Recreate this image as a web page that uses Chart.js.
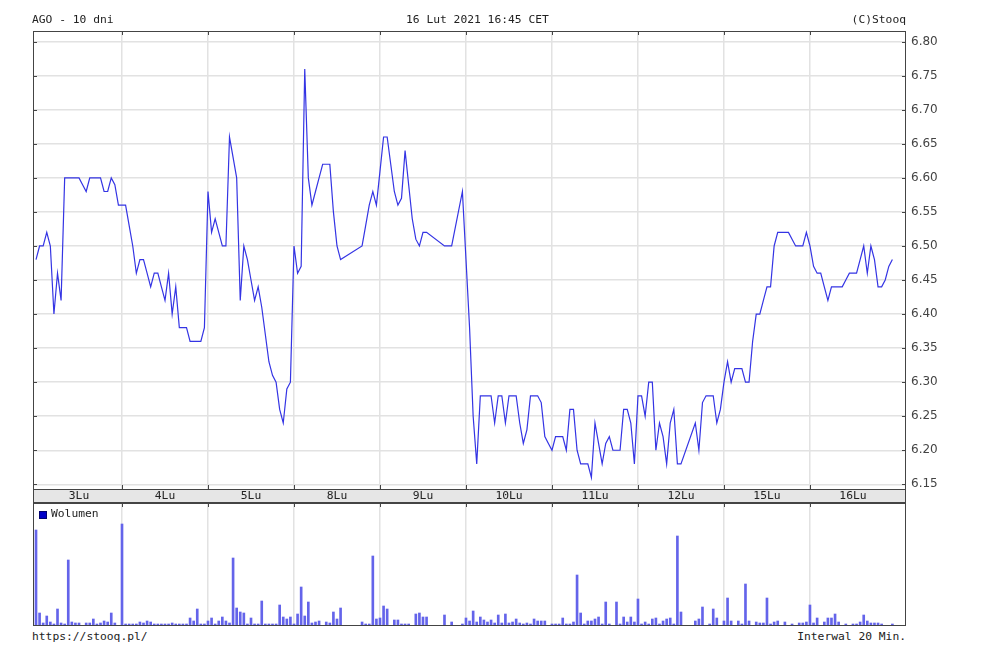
<!DOCTYPE html>
<html>
<head>
<meta charset="utf-8">
<title>AGO - 10 dni</title>
<script src="https://cdn.jsdelivr.net/npm/chart.js@4.4.1/dist/chart.umd.min.js"></script>
<style>
    body { margin: 0; background: #fff; }
    #wrap { position: relative; width: 1000px; height: 661px; overflow: hidden; }
    .t { position: absolute; font: 11.3px "DejaVu Sans Mono", monospace; color: #222; line-height: 14px; white-space: pre; }
    canvas { position: absolute; left: 0; }
    #legendBox { position: absolute; left: 39px; top: 511px; width: 6px; height: 6px; background: #0000c8; border: 1px solid #000070; }
</style>
</head>
<body>
<div id="wrap">
    <canvas id="priceChart" width="1000" height="503" style="top:0;width:1000px;height:503px"></canvas>
    <canvas id="volChart" width="1000" height="124" style="top:503px;width:1000px;height:124px"></canvas>
    <div class="t" style="left:32px;top:13px">AGO - 10 dni</div>
    <div class="t" style="left:406px;top:13px">16 Lut 2021 16:45 CET</div>
    <div class="t" style="right:94px;top:13px">(C)Stooq</div>
    <div id="legendBox"></div>
    <div class="t" style="left:51px;top:507px">Wolumen</div>
    <div class="t" style="left:32px;top:630px">https://stooq.pl/</div>
    <div class="t" style="right:94px;top:630px">Interwal 20 Min.</div>
</div>
<script>
// sessions shown on the x axis (24 quotes of 20 min per session)
var days = ['3Lu', '4Lu', '5Lu', '8Lu', '9Lu', '10Lu', '11Lu', '12Lu', '15Lu', '16Lu'];
var slotsPerDay = 24;

var yTicks = [6.15, 6.20, 6.25, 6.30, 6.35, 6.40, 6.45, 6.50, 6.55, 6.60, 6.65, 6.70, 6.75, 6.80];

// close price per 20 min interval (null = no trade)
var price = [
    6.48, 6.50, 6.50, 6.52, 6.50, 6.40, 6.46, 6.42, 6.60, 6.60, 6.60, 6.60, 6.60, 6.59, 6.58, 6.60, 6.60, 6.60, 6.60, 6.58, 6.58, 6.60, 6.59, 6.56,
    6.56, 6.56, 6.53, 6.50, 6.46, 6.48, 6.48, 6.46, 6.44, 6.46, 6.46, 6.44, 6.42, 6.46, 6.40, 6.44, 6.38, 6.38, 6.38, 6.36, 6.36, 6.36, 6.36, 6.38,
    6.58, 6.52, 6.54, 6.52, 6.50, 6.50, 6.66, 6.63, 6.60, 6.42, 6.50, 6.48, 6.45, 6.42, 6.44, 6.41, 6.37, 6.33, 6.31, 6.30, 6.26, 6.24, 6.29, 6.30,
    6.50, 6.46, 6.47, 6.76, 6.60, 6.56, 6.58, 6.60, 6.62, 6.62, 6.62, 6.55, 6.50, 6.48, null, null, null, null, null, 6.50, 6.53, 6.56, 6.58, 6.56,
    6.61, 6.66, 6.66, 6.62, 6.58, 6.56, 6.57, 6.64, 6.59, 6.54, 6.51, 6.50, 6.52, 6.52, null, null, null, null, 6.50, null, 6.50, null, null, 6.58,
    6.48, 6.38, 6.25, 6.18, 6.28, 6.28, 6.28, 6.28, 6.24, 6.28, 6.28, 6.24, 6.28, 6.28, 6.28, 6.24, 6.21, 6.23, 6.28, 6.28, 6.28, 6.27, 6.22, 6.21,
    6.20, 6.22, 6.22, 6.22, 6.20, 6.26, 6.26, 6.20, 6.18, 6.18, 6.18, 6.16, 6.24, 6.21, 6.18, 6.21, 6.22, 6.20, 6.20, 6.20, 6.26, 6.26, 6.24, 6.18,
    6.28, 6.28, 6.25, 6.30, 6.30, 6.20, 6.24, 6.22, 6.18, 6.24, 6.26, 6.18, 6.18, null, null, null, 6.24, 6.20, 6.27, 6.28, 6.28, 6.28, 6.24, 6.26,
    6.30, 6.33, 6.30, 6.32, 6.32, 6.32, 6.30, 6.30, 6.36, 6.40, 6.40, 6.42, 6.44, 6.44, 6.50, 6.52, 6.52, 6.52, 6.52, 6.51, 6.50, 6.50, 6.50, 6.52,
    6.50, 6.47, 6.46, 6.46, 6.44, 6.42, 6.44, 6.44, 6.44, 6.44, 6.45, 6.46, 6.46, 6.46, 6.48, 6.50, 6.46, 6.50, 6.48, 6.44, 6.44, 6.45, 6.47, 6.48
];

// volume per interval (thousand shares)
var volume = [
    96, 13, 3, 10, 4, 2, 17, 3, 2, 66, 4, 3, 3, 0, 3, 3, 7, 2, 3, 5, 4, 13, 3, 0,
    102, 2, 2, 2, 2, 4, 3, 5, 4, 2, 2, 2, 2, 2, 3, 2, 2, 2, 2, 8, 5, 17, 2, 2,
    5, 8, 2, 5, 9, 5, 3, 68, 18, 14, 13, 2, 8, 2, 2, 25, 2, 2, 2, 2, 21, 9, 7, 9,
    2, 12, 39, 10, 24, 3, 4, 5, 0, 4, 3, 14, 7, 18, 0, 0, 0, 0, 0, 4, 2, 2, 70, 7,
    8, 20, 17, 0, 6, 6, 2, 2, 2, 0, 12, 13, 9, 9, 0, 0, 0, 0, 11, 0, 4, 0, 0, 2,
    8, 5, 15, 4, 9, 6, 4, 6, 3, 11, 3, 12, 3, 4, 7, 3, 2, 3, 2, 7, 5, 5, 5, 0,
    2, 2, 2, 8, 2, 2, 4, 51, 13, 2, 5, 5, 7, 9, 2, 24, 2, 0, 24, 2, 9, 4, 9, 4,
    27, 2, 4, 2, 7, 8, 2, 5, 7, 8, 2, 90, 14, 0, 0, 0, 5, 7, 19, 0, 2, 17, 8, 0,
    5, 28, 5, 0, 5, 2, 42, 5, 0, 4, 3, 3, 28, 2, 4, 5, 0, 4, 0, 2, 0, 3, 3, 4,
    21, 3, 8, 0, 4, 8, 8, 12, 4, 0, 2, 0, 2, 2, 4, 11, 5, 3, 3, 3, 2, 0, 0, 2
];

var X_MIN = -0.84, X_MAX = 242.8;
var GRID = '#e2e2e2';
var monoFont = { family: 'DejaVu Sans Mono', size: 11.3 };

function dayTicks(scale) {
    scale.ticks = days.map(function (d, j) { return { value: j * slotsPerDay }; });
}
function dayGridColor(ctx) {
    return ctx.tick && ctx.tick.value === 0 ? 'rgba(0,0,0,0)' : GRID;
}

// gray strip behind the session labels, dark frame and short tick marks on the frame
var framePlugin = {
    id: 'frame',
    beforeDraw: function (chart) {
        var c = chart.ctx, a = chart.chartArea, x = chart.scales.x;
        if (chart.options.labelBand) {
            c.save();
            c.fillStyle = '#e6e6e6';
            c.fillRect(a.left, x.top, a.right - a.left, x.bottom - x.top);
            c.restore();
        }
    },
    afterDraw: function (chart) {
        var c = chart.ctx, a = chart.chartArea, x = chart.scales.x, y = chart.scales.y;
        var band = chart.options.labelBand;
        var bottom = band ? x.bottom : a.bottom;
        c.save();
        c.strokeStyle = '#444';
        c.lineWidth = 1;
        c.strokeRect(a.left + 0.5, a.top + 0.5, a.right - a.left - 1, bottom - a.top - 1);
        c.beginPath();
        if (band) {
            c.moveTo(a.left, a.bottom + 0.5);
            c.lineTo(a.right, a.bottom + 0.5);
            y.ticks.forEach(function (t) {
                var py = Math.round(y.getPixelForValue(t.value)) + 0.5;
                c.moveTo(a.left, py); c.lineTo(a.left + 4, py);
                c.moveTo(a.right - 4, py); c.lineTo(a.right, py);
            });
        }
        x.ticks.forEach(function (t) {
            if (t.value === 0) { return; }
            var px = Math.round(x.getPixelForValue(t.value)) + 0.5;
            c.moveTo(px, a.top); c.lineTo(px, a.top + 4);
            if (band) { c.moveTo(px, a.bottom); c.lineTo(px, a.bottom - 4); }
        });
        c.stroke();
        c.restore();
    }
};

var pricePoints = price.map(function (v, i) { return { x: i, y: v }; });
var volPoints = volume.map(function (v, i) { return { x: i, y: v }; });

new Chart(document.getElementById('priceChart'), {
    type: 'line',
    data: {
        datasets: [{
            label: 'AGO',
            data: pricePoints,
            borderColor: '#3434e4',
            borderWidth: 1.2,
            pointRadius: 0,
            tension: 0,
            spanGaps: true
        }]
    },
    options: {
        responsive: false,
        animation: false,
        devicePixelRatio: 1,
        labelBand: true,
        layout: { padding: { left: 33, top: 31, right: 0, bottom: 0 } },
        plugins: { legend: { display: false }, tooltip: { enabled: false } },
        scales: {
            x: {
                type: 'linear',
                min: X_MIN,
                max: X_MAX,
                offset: false,
                afterBuildTicks: dayTicks,
                afterFit: function (s) { s.height = 14; },
                grid: { color: dayGridColor, lineWidth: 1.5, drawTicks: false, offset: false },
                border: { display: false },
                ticks: {
                    autoSkip: false,
                    maxRotation: 0,
                    padding: 0,
                    labelOffset: 43,
                    color: '#222',
                    font: monoFont,
                    callback: function (v, i) { return days[i]; }
                }
            },
            y: {
                position: 'right',
                min: 6.1431,
                max: 6.8157,
                afterBuildTicks: function (s) {
                    s.ticks = yTicks.map(function (v) { return { value: v }; });
                },
                afterFit: function (s) { s.width = 94; },
                grid: { color: GRID, lineWidth: 1.5, drawTicks: false },
                border: { display: false },
                ticks: {
                    padding: 5,
                    color: '#444',
                    font: { family: 'DejaVu Sans', size: 12 },
                    callback: function (v) { return v.toFixed(2); }
                }
            }
        }
    },
    plugins: [framePlugin]
});

new Chart(document.getElementById('volChart'), {
    type: 'bar',
    data: {
        datasets: [{
            label: 'Wolumen',
            data: volPoints,
            backgroundColor: '#6464ea',
            barThickness: 2
        }]
    },
    options: {
        responsive: false,
        animation: false,
        devicePixelRatio: 1,
        layout: { padding: { left: 33, top: 0, right: 94, bottom: 1 } },
        plugins: { legend: { display: false }, tooltip: { enabled: false } },
        scales: {
            x: {
                type: 'linear',
                min: X_MIN,
                max: X_MAX,
                offset: false,
                afterBuildTicks: dayTicks,
                afterFit: function (s) { s.height = 0; },
                grid: { color: dayGridColor, lineWidth: 1.5, drawTicks: false, offset: false },
                border: { display: false },
                ticks: { display: false }
            },
            y: { display: false, min: 0, max: 123 }
        }
    },
    plugins: [framePlugin]
});
</script>
</body>
</html>
